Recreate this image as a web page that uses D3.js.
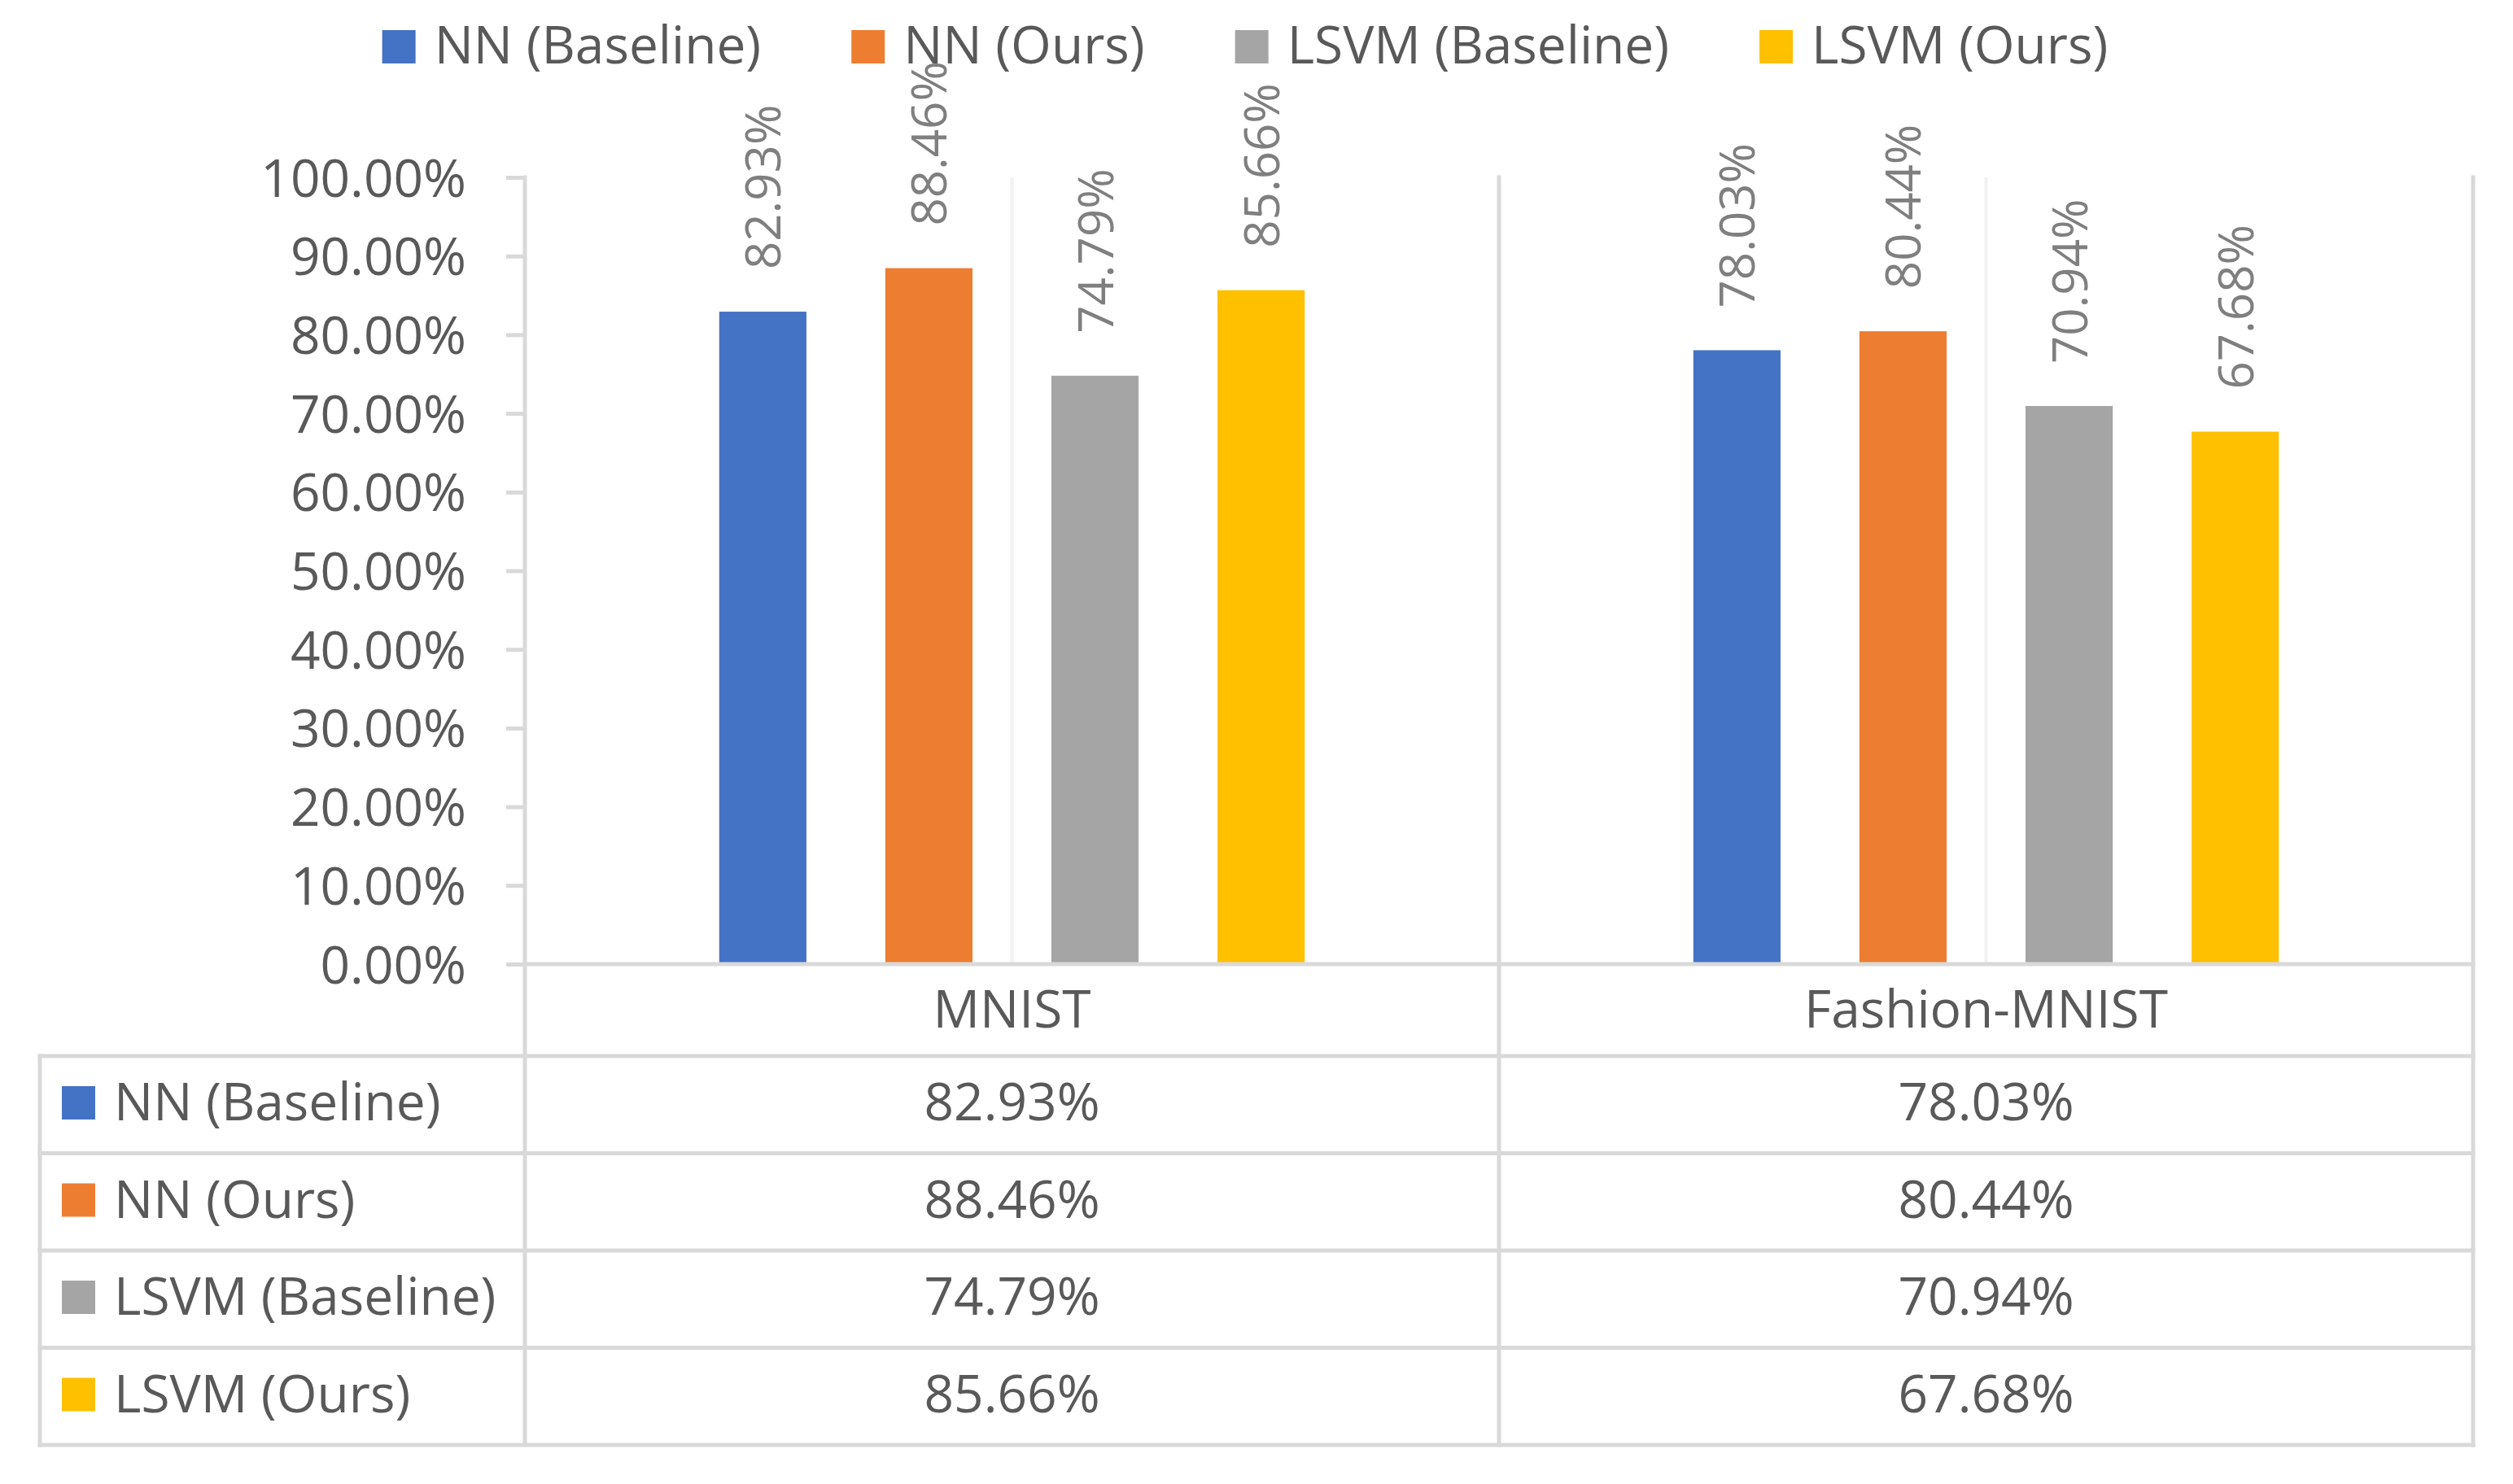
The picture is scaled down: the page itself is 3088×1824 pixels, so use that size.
<!DOCTYPE html>
<html>
<head>
<meta charset="utf-8">
<script src="https://cdn.jsdelivr.net/npm/d3@7"></script>
<style>
  body { margin: 0; background: #fff; }
  svg { display: block; }
  text { font-family: "Open Sans", "Noto Sans", sans-serif; }
</style>
</head>
<body>
<svg id="chart" width="3088" height="1824"></svg>
<script>
// ─── Data ────────────────────────────────────────────────
const categories = ['MNIST', 'Fashion-MNIST'];
const series = ['NN (Baseline)', 'NN (Ours)', 'LSVM (Baseline)', 'LSVM (Ours)'];
const colors = ['#4472c4', '#ed7d31', '#a5a5a5', '#ffc000'];
const values = [
  [0.8293, 0.7803],  // NN (Baseline)
  [0.8846, 0.8044],  // NN (Ours)
  [0.7479, 0.7094],  // LSVM (Baseline)
  [0.8566, 0.6768],  // LSVM (Ours)
];
const yTicks = [0, 0.1, 0.2, 0.3, 0.4, 0.5, 0.6, 0.7, 0.8, 0.9, 1.0];

// ─── Layout ──────────────────────────────────────────────
const plotTop = 218, plotBottom = 1185, plotLeft = 645, plotRight = 3039;
const tableLeft = 49, headerBottom = 1298, tableBottom = 1776;
const gridColor = '#d9d9d9', textColor = '#595959', labelColor = '#7f7f7f';

const svg = d3.select('#chart');

const y = d3.scaleLinear().domain([0, 1]).range([plotBottom, plotTop]);
const x0 = d3.scaleBand().domain(categories).range([plotLeft, plotRight]);
const x1 = d3.scaleBand().domain(series).range([0, x0.bandwidth()])
  .paddingInner(0.475).paddingOuter(1.17);
const rowY = d3.scaleBand().domain(series).range([headerBottom, tableBottom]);

// ─── Faint centre lines ──────────────────────────────────
svg.append('g').selectAll('line').data(categories).join('line')
  .attr('x1', d => x0(d) + x0.bandwidth() / 2).attr('x2', d => x0(d) + x0.bandwidth() / 2)
  .attr('y1', plotTop).attr('y2', plotBottom)
  .attr('stroke', '#f2f2f2').attr('stroke-width', 4);

// ─── Bars ────────────────────────────────────────────────
const flat = [];
series.forEach((s, i) => categories.forEach((c, j) => flat.push({ s, c, v: values[i][j], color: colors[i] })));

svg.append('g').selectAll('rect').data(flat).join('rect')
  .attr('x', d => x0(d.c) + x1(d.s))
  .attr('y', d => y(d.v))
  .attr('width', x1.bandwidth())
  .attr('height', d => plotBottom - y(d.v))
  .attr('fill', d => d.color);

// data labels (rotated)
svg.append('g').selectAll('text').data(flat).join('text')
  .attr('transform', d => `translate(${x0(d.c) + x1(d.s) + x1.bandwidth() / 2 + 22},${y(d.v) - 52}) rotate(-90)`)
  .attr('font-size', 60)
  .attr('fill', labelColor)
  .text(d => d3.format('.2%')(d.v));

// ─── Y axis ──────────────────────────────────────────────
const yAxis = svg.append('g')
  .attr('transform', `translate(${plotLeft},0)`)
  .call(d3.axisLeft(y).tickValues(yTicks).tickFormat(d3.format('.2%')).tickSize(23).tickPadding(49));
yAxis.select('.domain').remove();
yAxis.selectAll('.tick line').attr('stroke', gridColor).attr('stroke-width', 5);
yAxis.selectAll('.tick text')
  .attr('font-family', '"Open Sans", sans-serif')
  .attr('font-size', 64).attr('fill', textColor)
  .attr('dy', 23);

// ─── Grid / table lines ──────────────────────────────────
const lines = svg.append('g').attr('stroke', gridColor).attr('stroke-width', 5).attr('stroke-linecap', 'square');
lines.append('line').attr('x1', plotLeft).attr('x2', plotRight).attr('y1', plotBottom).attr('y2', plotBottom);
[headerBottom, ...series.map(s => rowY(s) + rowY.bandwidth())].forEach(yy => {
  lines.append('line').attr('x1', tableLeft).attr('x2', plotRight).attr('y1', yy).attr('y2', yy);
});
lines.append('line').attr('x1', tableLeft).attr('x2', tableLeft).attr('y1', headerBottom).attr('y2', tableBottom);
[plotLeft, ...categories.map(c => x0(c) + x0.bandwidth())].forEach(xx => {
  lines.append('line').attr('x1', xx).attr('x2', xx).attr('y1', plotTop).attr('y2', tableBottom);
});

// ─── Table ───────────────────────────────────────────────
svg.append('g').selectAll('text').data(categories).join('text')
  .attr('x', d => x0(d) + x0.bandwidth() / 2).attr('y', 1263)
  .attr('text-anchor', 'middle').attr('font-size', 64).attr('fill', textColor)
  .text(d => d);

const rows = svg.append('g').selectAll('g').data(series).join('g')
  .attr('transform', d => `translate(0,${rowY(d)})`);
rows.append('rect')
  .attr('x', 76).attr('y', 37).attr('width', 41).attr('height', 41)
  .attr('fill', (d, i) => colors[i]);
rows.append('text')
  .attr('x', 140).attr('y', 79)
  .attr('font-size', 64).attr('fill', textColor)
  .text(d => d);
rows.each(function (s, i) {
  d3.select(this).selectAll('text.val').data(categories).join('text')
    .attr('class', 'val')
    .attr('x', c => x0(c) + x0.bandwidth() / 2).attr('y', 79)
    .attr('text-anchor', 'middle').attr('font-size', 64).attr('fill', textColor)
    .text((c, j) => d3.format('.2%')(values[i][j]));
});

// ─── Legend ──────────────────────────────────────────────
const legend = svg.append('g');
const items = legend.selectAll('g').data(series).join('g');
items.append('rect').attr('width', 41).attr('height', 41).attr('y', 37)
  .attr('fill', (d, i) => colors[i]);
items.append('text').attr('x', 64).attr('y', 78)
  .attr('font-size', 64).attr('fill', textColor).text(d => d);
let cursor = 0;
items.each(function () {
  const w = 64 + d3.select(this).select('text').node().getComputedTextLength();
  d3.select(this).attr('transform', `translate(${cursor},0)`);
  cursor += w + 111;
});
const legendWidth = cursor - 111;
legend.attr('transform', `translate(${1530 - legendWidth / 2},0)`);
</script>
</body>
</html>
